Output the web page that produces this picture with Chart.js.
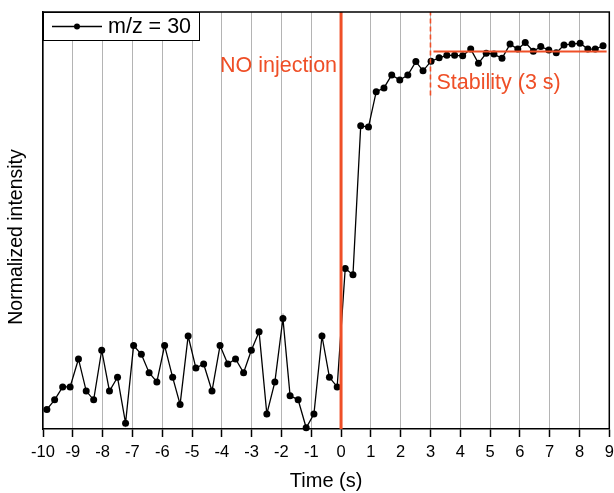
<!DOCTYPE html>
<html>
<head>
<meta charset="utf-8">
<script src="https://cdn.jsdelivr.net/npm/chart.js@4.4.1/dist/chart.umd.min.js"></script>
<style>
  html, body { margin: 0; padding: 0; background: #fff; }
  #wrap { width: 614px; height: 493px; }
</style>
</head>
<body>
<div id="wrap"><canvas id="c" width="614" height="493"></canvas></div>
<script>
// Time stamps (s) of the m/z = 30 signal
const times = [
  -9.87, -9.61, -9.34, -9.09, -8.81, -8.55, -8.30, -8.03, -7.77, -7.50,
  -7.23, -6.96, -6.70, -6.44, -6.18, -5.92, -5.65, -5.40, -5.13, -4.87,
  -4.61, -4.33, -4.06, -3.80, -3.54, -3.27, -3.01, -2.75, -2.49, -2.22,
  -1.95, -1.71, -1.44, -1.17, -0.91, -0.64, -0.39, -0.13, 0.14, 0.40,
  0.66, 0.92, 1.18, 1.44, 1.70, 1.97, 2.24, 2.51, 2.75, 3.02,
  3.29, 3.55, 3.81, 4.08, 4.35, 4.61, 4.87, 5.13, 5.40, 5.67,
  5.93, 6.18, 6.45, 6.70, 6.97, 7.22, 7.48, 7.75, 8.02, 8.28,
  8.53, 8.79
];
// Normalized intensity
const intensity = [
  0.047, 0.070, 0.101, 0.101, 0.168, 0.091, 0.070, 0.189, 0.091, 0.124,
  0.014, 0.200, 0.179, 0.135, 0.113, 0.200, 0.124, 0.059, 0.223, 0.146,
  0.156, 0.091, 0.200, 0.156, 0.168, 0.135, 0.189, 0.233, 0.036, 0.113,
  0.265, 0.080, 0.070, 0.003, 0.036, 0.223, 0.124, 0.101, 0.385, 0.370,
  0.727, 0.724, 0.809, 0.818, 0.849, 0.837, 0.849, 0.881, 0.859, 0.882,
  0.890, 0.896, 0.896, 0.895, 0.911, 0.877, 0.901, 0.899, 0.889, 0.923,
  0.911, 0.927, 0.906, 0.917, 0.909, 0.902, 0.921, 0.923, 0.925, 0.911,
  0.911, 0.919
];
const seriesLabel = 'm/z = 30';
// Annotation markers
const injectionTime = 0;
const stabilityStart = 3;
const stabilityLevel = 0.905;
const stabilityLineX = [3.10, 8.91];
const stabilityDashY = [0.80, 1.0];
const xMin = -10, xMax = 9;

const RED = '#EF4F27';
const FONT = '"Liberation Sans", Arial, sans-serif';

const data = times.map((t, i) => ({ x: t, y: intensity[i] }));

const framePlugin = {
  id: 'frame',
  afterDatasetsDraw(chart) {
    const { ctx, chartArea: a, scales } = chart;
    ctx.save();
    // top & right frame
    ctx.strokeStyle = '#000';
    ctx.lineWidth = 1.5;
    ctx.beginPath();
    ctx.moveTo(a.left, a.top);
    ctx.lineTo(a.right, a.top);
    ctx.lineTo(a.right, a.bottom);
    ctx.stroke();
    // annotation texts
    ctx.fillStyle = RED;
    ctx.font = '21.5px ' + FONT;
    ctx.textBaseline = 'middle';
    ctx.textAlign = 'right';
    ctx.fillText('NO injection', scales.x.getPixelForValue(injectionTime) - 4, 66);
    ctx.textAlign = 'left';
    ctx.fillText('Stability (3 s)', scales.x.getPixelForValue(stabilityStart) + 6, 83);
    // legend box
    const lx = a.left, ly = a.top, lw = 157, lh = 29;
    ctx.fillStyle = '#fff';
    ctx.fillRect(lx, ly, lw, lh);
    ctx.strokeStyle = '#000';
    ctx.lineWidth = 1;
    ctx.strokeRect(lx + 0.5, ly + 0.5, lw - 1, lh - 1);
    ctx.beginPath();
    ctx.lineWidth = 1.3;
    ctx.moveTo(lx + 9, ly + 14.5);
    ctx.lineTo(lx + 59, ly + 14.5);
    ctx.stroke();
    ctx.beginPath();
    ctx.fillStyle = '#000';
    ctx.arc(lx + 34, ly + 14.5, 3, 0, Math.PI * 2);
    ctx.fill();
    ctx.font = '21.5px ' + FONT;
    ctx.textAlign = 'left';
    ctx.textBaseline = 'middle';
    ctx.fillText(seriesLabel, lx + 65, ly + 15);
    // y axis title
    ctx.save();
    ctx.translate(17, 237);
    ctx.rotate(-Math.PI / 2);
    ctx.font = '19.5px ' + FONT;
    ctx.textAlign = 'center';
    ctx.textBaseline = 'middle';
    ctx.fillText('Normalized intensity', 0, 0);
    ctx.restore();
    ctx.restore();
  }
};

new Chart(document.getElementById('c'), {
  type: 'scatter',
  data: {
    datasets: [
      {
        label: 'NO injection',
        data: [{ x: injectionTime, y: 0 }, { x: injectionTime, y: 1 }],
        showLine: true, borderColor: RED, borderWidth: 3, pointRadius: 0,
        order: 0, clip: false
      },
      {
        label: 'Stability start',
        data: [{ x: stabilityStart, y: stabilityDashY[0] }, { x: stabilityStart, y: stabilityDashY[1] }],
        showLine: true, borderColor: RED, borderWidth: 1.6, borderDash: [5, 3], pointRadius: 0,
        order: 0
      },
      {
        label: 'Stability level',
        data: [{ x: stabilityLineX[0], y: stabilityLevel }, { x: stabilityLineX[1], y: stabilityLevel }],
        showLine: true, borderColor: RED, borderWidth: 2, pointRadius: 0,
        order: 0
      },
      {
        label: seriesLabel,
        data: data,
        showLine: true,
        borderColor: '#000', borderWidth: 1.3,
        pointRadius: 3.5, pointBackgroundColor: '#000', pointBorderWidth: 0,
        order: 1, clip: false
      }
    ]
  },
  options: {
    responsive: false,
    animation: false,
    devicePixelRatio: 1,
    layout: { padding: { top: 12, right: 0, left: 0, bottom: 0 } },
    plugins: { legend: { display: false }, tooltip: { enabled: false } },
    scales: {
      x: {
        type: 'linear', min: xMin, max: xMax,
        afterFit: s => { s.height = 64; s.paddingRight = 4.7; s.paddingLeft = 0; },
        ticks: { stepSize: 1, color: '#000', font: { family: FONT, size: 16.5 }, padding: 6, maxRotation: 0, autoSkip: false },
        grid: { color: '#b4b4b4', lineWidth: 1, tickColor: '#000', tickLength: 8, tickWidth: 1.5, drawOnChartArea: true },
        border: { color: '#000', width: 1.5 },
        title: { display: true, text: 'Time (s)', color: '#000', font: { family: FONT, size: 20 }, padding: { top: 0, bottom: 0 } }
      },
      y: {
        min: 0, max: 1,
        afterFit: s => { s.width = 43; },
        ticks: { display: false },
        grid: { display: false, drawTicks: false },
        border: { color: '#000', width: 1.5 },
        title: { display: false }
      }
    }
  },
  plugins: [framePlugin]
});
</script>
</body>
</html>
